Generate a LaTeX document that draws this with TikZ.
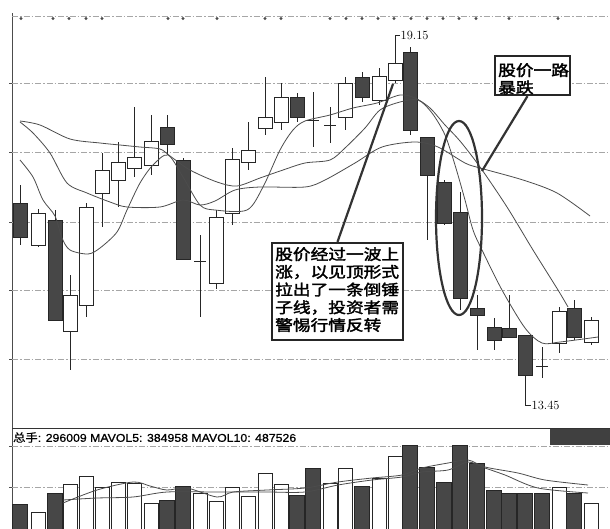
\documentclass[tikz,border=0pt]{standalone}
\usepackage{fontspec}
\usepackage{graphicx}
\newfontfamily\cjk{Noto Sans CJK SC}[FakeBold=2]
\newfontfamily\cjkv{Noto Sans CJK SC}[FakeBold=0.8]
\newfontfamily\lsans{Liberation Sans}[FakeBold=0.8]
\begin{document}
\begin{tikzpicture}[x=1pt,y=-1pt,
  grid/.style={gray!70, line width=0.6pt, dash pattern=on 6pt off 2pt on 1.5pt off 2pt},
  darkc/.style={fill=black!72, draw=black!85, line width=0.7pt},
  whitec/.style={fill=white, draw=black!85, line width=0.7pt},
  wick/.style={draw=black!85, line width=0.7pt},
  maline/.style={draw=black!70, line width=0.8pt},
  callout/.style={draw=black!85, line width=2.2pt, fill=white, inner sep=0pt},
  pointer/.style={draw=black!80, line width=2.2pt},
  cjktext/.style={inner sep=0pt, anchor=north west},
]
\useasboundingbox (0,0) rectangle (610,528);
\clip (0,0) rectangle (610,528);
\fill[white] (0,0) rectangle (610,528);

% axis and grid
\draw[black!70, line width=0.8pt] (12,13) -- (12,528);
\draw[grid] (12,16) -- (610,16);
\foreach \m in {21,53,69,86,102,168,183,217,265,281,330,346,362,378,394,411,427,443,459,476,509,558}
  \fill[black!70] (\m,18.5) circle (1.7);
\foreach \g in {83,152,222,290,359} {
  \draw[grid] (12,\g) -- (610,\g);
  \draw[black!70, line width=0.6pt] (9,\g) -- (12,\g);
}

% dark candles: x / body top / body bottom / high / low
\foreach \x/\o/\c/\h/\l in {20/203/237/185/245, 55/220/320/210/320, 167/127/144/115/155,
  183/160/259/158/259, 297/97/117/93/122, 362/77/97/72/102, 410/52/130/47/135,
  427/137/175/137/240, 444/182/223/180/225, 460/212/298/192/310, 477/308/315/295/350,
  494/327/340/318/350, 509/328/337/295/338, 525/335/375/335/405, 574/308/337/300/340} {
  \draw[wick] (\x,\h) -- (\x,\l);
  \draw[darkc] (\x-7,\o) rectangle (\x+7,\c);
}
% white candles
\foreach \x/\o/\c/\h/\l in {38/213/245/209/247, 70/295/331/275/370, 86/207/305/203/317,
  102/170/193/153/227, 118/162/180/142/207, 134/157/168/107/177, 151/141/165/115/175,
  216/217/283/210/289, 232/159/213/148/225, 248/150/162/122/170, 265/117/128/77/135,
  281/97/122/83/130, 345/83/117/77/130, 379/76/100/68/105, 395/63/80/35/83,
  559/311/343/307/353, 591/320/342/317/345} {
  \draw[wick] (\x,\h) -- (\x,\l);
  \draw[whitec] (\x-7,\o) rectangle (\x+7,\c);
}
% cross candles: x / level / high / low
\foreach \x/\o/\h/\l in {200/261/235/317, 313/120/92/147, 330/125/107/143, 542/366/347/378} {
  \draw[wick] (\x,\h) -- (\x,\l);
  \draw[wick] (\x-6,\o) -- (\x+6,\o);
}

% moving averages
\draw[maline] plot[smooth, tension=0.5] coordinates {(20,160) (33,177) (43,200) (55,216) (62,238)
  (70,250) (88,254) (100,248) (117,232) (127,210) (140,183) (153,165) (168,155) (183,177)
  (200,205) (215,210) (247,210) (263,187) (280,150) (293,130) (305,121) (330,115) (353,108)
  (377,103) (400,95) (415,98) (430,108) (445,125) (460,141) (480,167) (507,207) (533,250)
  (558,290) (568,307)};
\draw[maline] plot[smooth, tension=0.5] coordinates {(20,121) (40,125) (70,139) (100,143)
  (120,145) (140,147) (160,149) (170,156) (190,170) (217,182) (237,186) (260,178) (283,170)
  (305,163) (330,160) (345,148) (365,128) (380,110) (400,102) (418,100) (432,113) (445,135)
  (455,165) (465,200) (473,230) (482,250) (502,290) (525,328) (542,343) (560,342) (598,337)};
\draw[maline] plot[smooth, tension=0.5] coordinates {(20,122) (33,133) (50,153) (67,183)
  (87,193) (110,202) (127,207) (160,207) (183,200) (200,205) (215,201) (235,190) (260,187)
  (305,187) (325,180) (355,163) (382,147) (415,142) (438,147) (465,163) (480,168) (523,180)
  (557,193) (590,216)};

% extreme price markers
\draw[wick] (395,35) -- (400,35);
\node[anchor=west, inner sep=0.5pt, font=\fontsize{12.5}{13}\selectfont] (hi) at (400,35) {19.15};
\draw[wick] (525,405) -- (531,405);
\node[anchor=west, inner sep=0.5pt, font=\fontsize{12.5}{13}\selectfont] (lo) at (531,405) {13.45};

% ellipse around the plunge
\draw[black!80, line width=2.2pt] (459,218) ellipse [x radius=23, y radius=97];

% callouts
\node[callout, minimum width=75pt, minimum height=39pt] (b1) at (532.5,75.5) {};
\node[cjktext] (t1) at (498,63) {\scalebox{1.18}[1]{\cjk\fontsize{15}{16}\selectfont
  \begin{tabular}{@{}l@{}}股价一路\\暴跌\end{tabular}}};
\coordinate (p1) at (482,171);
\draw[pointer] ([xshift=-5pt]b1.south) -- (p1);

\node[callout, minimum width=131pt, minimum height=97pt] (b2) at (337.5,291.5) {};
\node[cjktext] (t2) at (275,247) {\scalebox{1.18}[1]{\cjk\fontsize{15}{17}\selectfont
  \begin{tabular}{@{}l@{}}股价经过一波上\\涨，以见顶形式\\拉出了一条倒锤\\子线，投资者需\\警惕行情反转\end{tabular}}};
\coordinate (p2) at (393,84);
\draw[pointer] (b2.north) -- (p2);

% volume panel
\draw[black!80, line width=1pt] (12,428.5) -- (610,428.5);
\fill[black!75] (550,429) rectangle (610,445);
\draw[grid] (12,446) -- (610,446);
\draw[grid] (12,487) -- (610,487);
\draw[black!70, line width=0.6pt] (9,446) -- (12,446);
\draw[black!70, line width=0.6pt] (9,487) -- (12,487);
\node[anchor=west, inner sep=0pt] (vol) at (13,437.5) {\resizebox{283pt}{9.5pt}{{\cjkv 总手}\lsans : 296009 MAVOL5: 384958 MAVOL10: 487526}};

\foreach \x/\t in {20/504, 55/493, 167/500, 183/486, 297/495, 313/468, 362/486, 410/445,
  427/467, 444/482, 460/445, 477/463, 494/490, 509/493, 525/493, 542/493, 574/493}
  \draw[darkc] (\x-7.5,\t) rectangle (\x+7.5,532);
\foreach \x/\t in {38/512, 70/484, 86/476, 102/487, 118/482, 134/483, 151/503, 200/493,
  216/501, 232/487, 248/496, 265/473, 281/484, 330/483, 345/468, 379/478, 395/456, 559/487, 591/503}
  \draw[whitec] (\x-7,\t) rectangle (\x+7,532);

\draw[maline] plot[smooth, tension=0.5] coordinates {(63,503) (97,490) (133,482) (150,486)
  (167,490) (187,488) (217,497) (233,492) (267,490) (305,488) (338,482) (372,478) (402,475)
  (422,468) (448,463) (468,460) (485,467) (518,473) (545,480) (588,485)};
\draw[maline] plot[smooth, tension=0.5] coordinates {(63,500) (97,498) (133,497) (167,492)
  (217,492) (267,492) (305,492) (338,485) (372,480) (402,477) (422,472) (448,470) (468,462)
  (485,468) (505,475) (538,488) (588,493)};
\end{tikzpicture}
\end{document}
